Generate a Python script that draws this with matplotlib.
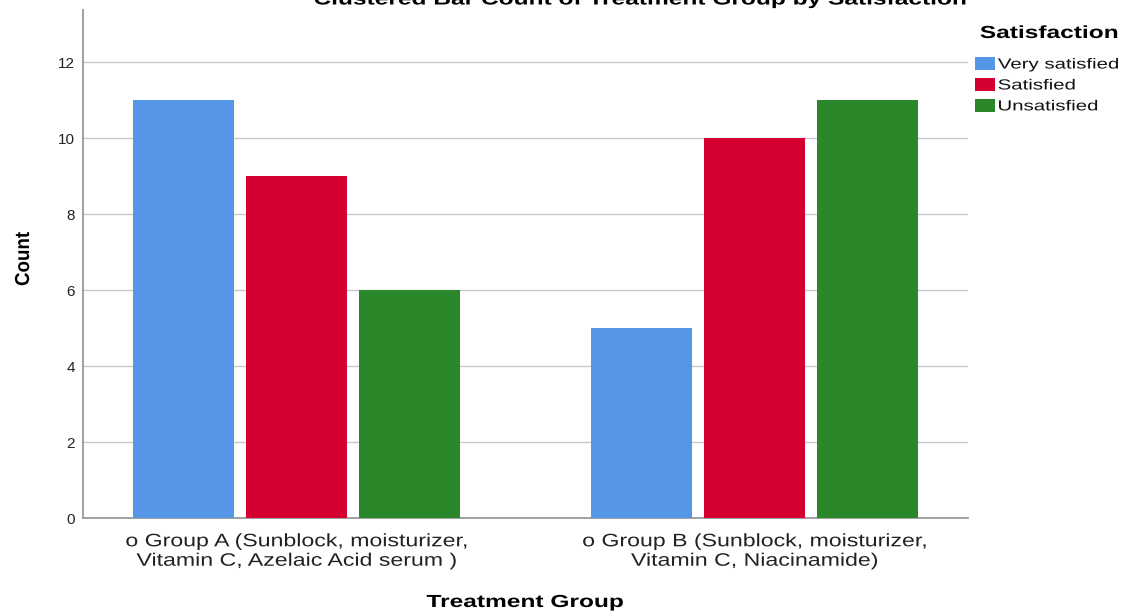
import matplotlib
matplotlib.use("Agg")
import matplotlib.pyplot as plt
from matplotlib.patheffects import AbstractPathEffect
from matplotlib.transforms import Affine2D
import numpy as np

plt.rcParams['font.family'] = ['Liberation Sans', 'DejaVu Sans']

groups = ["o Group A (Sunblock, moisturizer,\nVitamin C, Azelaic Acid serum )",
          "o Group B (Sunblock, moisturizer,\nVitamin C, Niacinamide)"]
satisfaction = ["Very satisfied", "Satisfied", "Unsatisfied"]
counts = {
    "Very satisfied": [11, 5],
    "Satisfied": [9, 10],
    "Unsatisfied": [6, 11],
}
colors = {"Very satisfied": "#5596E6", "Satisfied": "#D50032", "Unsatisfied": "#2A872A"}
yticks = [0, 2, 4, 6, 8, 10, 12]


class Widen(AbstractPathEffect):
    """Draw text glyphs stretched horizontally about a chosen anchor."""

    def __init__(self, sx, anchor="center"):
        super().__init__()
        self.sx = sx
        self.anchor = anchor

    def draw_path(self, renderer, gc, tpath, affine, rgbFace=None):
        ext = tpath.get_extents(affine)
        x0 = {"center": 0.5 * (ext.x0 + ext.x1), "left": ext.x0, "right": ext.x1}[self.anchor]
        t = affine + Affine2D().translate(-x0, 0).scale(self.sx, 1).translate(x0, 0)
        renderer.draw_path(gc, tpath, t, rgbFace)


SX = 1.4
W, H = 1123, 612
fig = plt.figure(figsize=(W / 100, H / 100), dpi=100)
ax = fig.add_axes([83 / W, 1 - 518 / H, (968 - 83) / W, (518 - 10) / H])

x = np.arange(len(groups))
width = 0.2205
step = 0.2467
for i, s in enumerate(satisfaction):
    ax.bar(x + (i - 1) * step, counts[s], width=width, color=colors[s],
           edgecolor="none", label=s, zorder=3)

ax.set_xlim(-0.466, 1.466)
ax.set_ylim(0, (518 - 10) / 38)
ax.set_yticks(yticks)
ax.set_yticklabels([str(v) for v in yticks], fontsize=11, color="#222222")
ax.yaxis.grid(True, color="#C8C8C8", linewidth=1, zorder=0)
ax.set_xticks(x)
ax.set_xticklabels(groups, fontsize=13, color="#222222", linespacing=1.19)
for lab in ax.get_xticklabels():
    lab.set_path_effects([Widen(1.28, "center")])
ax.tick_params(axis="x", length=0, pad=11)
ax.tick_params(axis="y", length=0, pad=5.8)
for side in ("top", "right"):
    ax.spines[side].set_visible(False)
for side in ("left", "bottom"):
    ax.spines[side].set_color("#999999")
    ax.spines[side].set_linewidth(1.3)

fig.text(24 / W, 1 - 259 / H, "Count", fontsize=13.5, fontweight="bold",
         rotation=90, ha="center", va="center", path_effects=[Widen(1.08, "center")])
fig.text(525 / W, 1 - 607 / H, "Treatment Group", fontsize=12.6, fontweight="bold",
         ha="center", va="baseline", path_effects=[Widen(SX, "center")])
fig.text(640 / W, 1 - 4.5 / H, "Clustered Bar Count of Treatment Group by Satisfaction",
         fontsize=12.6, fontweight="bold", ha="center", va="baseline",
         path_effects=[Widen(SX, "center")])

fig.text(980 / W, 1 - 38 / H, "Satisfaction", fontsize=12.6, fontweight="bold",
         ha="left", va="baseline", path_effects=[Widen(SX, "left")])
leg = ax.legend(loc="upper left", bbox_to_anchor=(975 / W, 1 - 57 / H),
                bbox_transform=fig.transFigure, frameon=False, fontsize=10.5,
                handlelength=1.37, handleheight=1.0, handletextpad=0.2,
                labelspacing=0.44, borderaxespad=0, borderpad=0)
for t in leg.get_texts():
    t.set_color("#111111")
    t.set_path_effects([Widen(SX, "left")])

fig.savefig("out.png", dpi=100)
